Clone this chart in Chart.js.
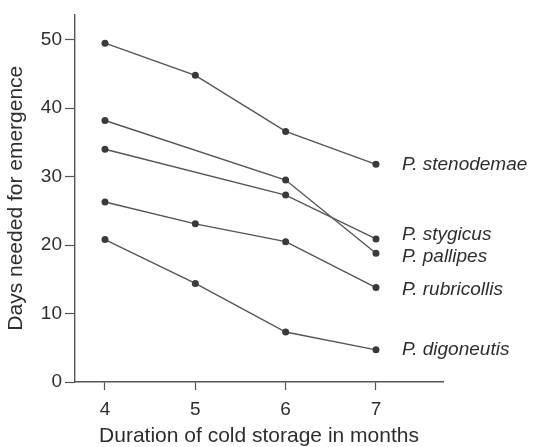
<!DOCTYPE html>
<html>
<head>
<meta charset="utf-8">
<script src="https://cdn.jsdelivr.net/npm/chart.js@4"></script>
<style>
  html, body { margin: 0; padding: 0; background: #fff; }
  #wrap { width: 536px; height: 447px; }
</style>
</head>
<body>
<div id="wrap"><canvas id="storageChart"></canvas></div>
<script>
// months of cold storage
const months = [4, 5, 6, 7];
const speciesNames = ['P. stenodemae', 'P. stygicus', 'P. pallipes', 'P. rubricollis', 'P. digoneutis'];
// days needed for emergence (null = not measured)
const stenodemae = [49.5, 44.8, 36.6, 31.8];
const stygicus = [34.0, null, 27.3, 20.9];
const pallipes = [38.2, null, 29.5, 18.8];
const rubricollis = [26.3, 23.1, 20.5, 13.8];
const digoneutis = [20.8, 14.4, 7.3, 4.7];
const yTicks = [0, 10, 20, 30, 40, 50];

const allSeries = [stenodemae, stygicus, pallipes, rubricollis, digoneutis];
// small vertical nudges so the end labels do not collide
const labelNudge = [0, -4, 3, 2, 0];

const FONT = '"Liberation Sans", Arial, Helvetica, sans-serif';
const INK = '#2e2e2e';
const LINE = '#555555';

const datasets = allSeries.map((vals, i) => ({
    label: speciesNames[i],
    data: months.map((m, j) => ({ x: m, y: vals[j] })),
    borderColor: LINE,
    borderWidth: 1.4,
    pointRadius: 3.5,
    pointBackgroundColor: '#3a3a3a',
    pointBorderWidth: 0,
    spanGaps: true,
    tension: 0
}));

// writes species names next to the last point of each line
const endLabels = {
    id: 'endLabels',
    afterDatasetsDraw(chart) {
        const ctx = chart.ctx;
        const xs = chart.scales.x, ys = chart.scales.y;
        ctx.save();
        ctx.font = 'italic 19px ' + FONT;
        ctx.fillStyle = INK;
        ctx.textBaseline = 'middle';
        allSeries.forEach((vals, i) => {
            const last = vals[vals.length - 1];
            const px = xs.getPixelForValue(months[months.length - 1]) + 26;
            const py = ys.getPixelForValue(last) + labelNudge[i];
            ctx.fillText(speciesNames[i], px, py);
        });
        ctx.restore();
    }
};

new Chart(document.getElementById('storageChart'), {
    type: 'line',
    data: { datasets: datasets },
    options: {
        responsive: true,
        maintainAspectRatio: false,
        animation: false,
        layout: { padding: { top: 11, right: 93, left: 0, bottom: 0 } },
        plugins: {
            legend: { display: false },
            tooltip: { enabled: false }
        },
        scales: {
            x: {
                type: 'linear',
                min: 3.668,
                max: 7.742,
                afterBuildTicks: s => { s.ticks = months.map(v => ({ value: v })); },
                afterFit: s => { s.height = 65; },
                grid: { display: true, drawOnChartArea: false, drawTicks: true, tickLength: 8, color: LINE, tickWidth: 1.2 },
                border: { display: true, color: LINE, width: 1.4 },
                ticks: { color: INK, font: { family: FONT, size: 19 }, padding: 8 },
                title: {
                    display: true,
                    text: 'Duration of cold storage in months',
                    color: INK,
                    font: { family: FONT, size: 21, lineHeight: 1 },
                    padding: { top: 0, bottom: 0 }
                }
            },
            y: {
                min: 0,
                max: 53.7,
                afterBuildTicks: s => { s.ticks = yTicks.map(v => ({ value: v })); },
                afterFit: s => { s.width = 75; },
                grid: { display: true, drawOnChartArea: false, drawTicks: true, tickLength: 10, color: LINE, tickWidth: 1.2 },
                border: { display: true, color: LINE, width: 1.4 },
                ticks: { color: INK, font: { family: FONT, size: 19 }, padding: 3 },
                title: {
                    display: true,
                    text: 'Days needed for emergence',
                    color: INK,
                    font: { family: FONT, size: 21 },
                    padding: { top: 4, bottom: 0 }
                }
            }
        }
    },
    plugins: [endLabels]
});
</script>
</body>
</html>
